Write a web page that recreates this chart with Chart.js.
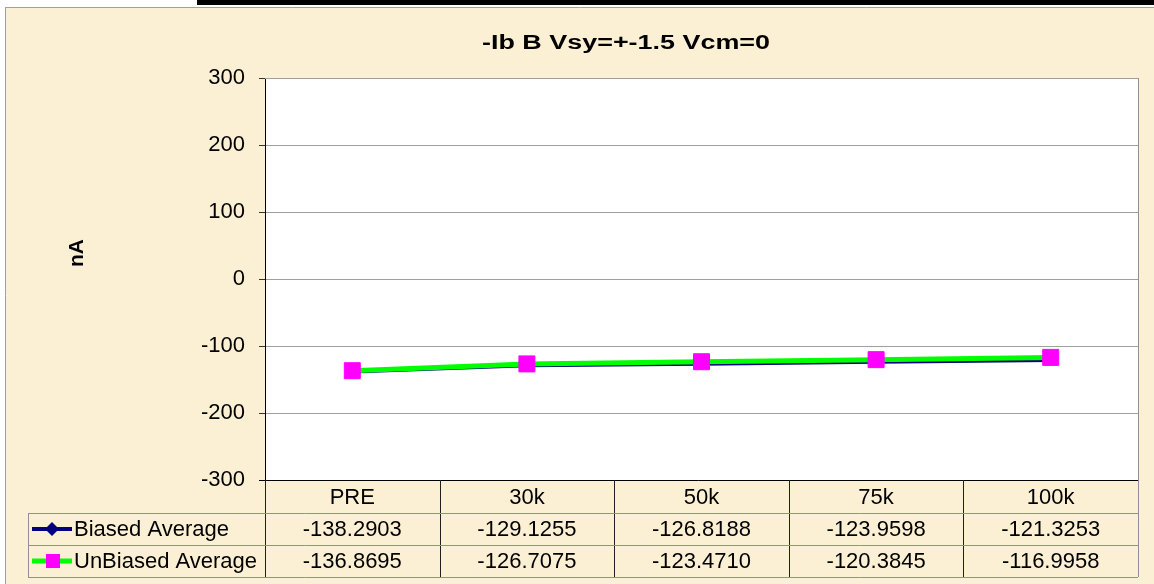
<!DOCTYPE html>
<html>
<head>
<meta charset="utf-8">
<title>-Ib B Vsy=+-1.5 Vcm=0</title>
<script src="https://cdn.jsdelivr.net/npm/chart.js@4.4.0/dist/chart.umd.min.js"></script>
<style>
  html, body { margin: 0; padding: 0; background: #fff; }
  #wrap { width: 1154px; height: 584px; }
</style>
</head>
<body>
<div id="wrap"><canvas id="ibChart" width="1154" height="584"></canvas></div>
<script>
// Chart data
const categories = ['PRE', '30k', '50k', '75k', '100k'];
const biasedAvg = [-138.2903, -129.1255, -126.8188, -123.9598, -121.3253];
const unbiasedAvg = [-136.8695, -126.7075, -123.4710, -120.3845, -116.9958];
const yTicks = [-300, -200, -100, 0, 100, 200, 300];
const chartTitle = '-Ib B Vsy=+-1.5 Vcm=0';
const yTitle = 'nA';

const FONT = "'Liberation Sans', Arial, sans-serif";

function hline(ctx, x1, x2, y, color) {
  ctx.strokeStyle = color;
  ctx.beginPath();
  ctx.moveTo(x1, Math.round(y) + 0.5);
  ctx.lineTo(x2, Math.round(y) + 0.5);
  ctx.stroke();
}

function vline(ctx, x, y1, y2, color) {
  ctx.strokeStyle = color;
  ctx.beginPath();
  ctx.moveTo(Math.round(x) + 0.5, y1);
  ctx.lineTo(Math.round(x) + 0.5, y2);
  ctx.stroke();
}

// parchment panel + white plot area
const backdrop = {
  id: 'backdrop',
  beforeDraw(chart) {
    const { ctx, chartArea: a, width, height } = chart;
    ctx.save();
    ctx.fillStyle = '#fff';
    ctx.fillRect(0, 0, width, height);
    ctx.fillStyle = '#fbf0d4';
    ctx.fillRect(5, 7, width - 5, height - 7);
    ctx.lineWidth = 1;
    vline(ctx, 5, 7, height, '#a0a0a0');
    hline(ctx, 5, width, 7, '#a0a0a0');
    ctx.fillStyle = '#000';
    ctx.fillRect(197, 0, width - 197, 5);
    ctx.fillStyle = '#fff';
    ctx.fillRect(a.left, a.top, a.width, a.height);
    ctx.restore();
  }
};

// frame, data table, title and axis title
const dataTable = {
  id: 'dataTable',
  afterDraw(chart) {
    const { ctx, chartArea: a, scales: { x } } = chart;
    const colW = a.width / categories.length;
    const r0 = a.bottom, r1 = r0 + 33, r2 = r1 + 32, r3 = r2 + 32;
    const legendLeft = 28;

    ctx.save();
    ctx.lineWidth = 1;
    hline(ctx, a.left, a.right, a.top, '#a0a0a0');
    vline(ctx, a.right, a.top, r3, '#909090');
    hline(ctx, a.left - 6, a.right, a.bottom, '#000');

    categories.forEach((c, i) => {
      vline(ctx, x.getPixelForValue(i) - colW / 2, r0, r3, '#202020');
    });
    [r1, r2, r3].forEach(y => hline(ctx, legendLeft, a.right, y, '#909090'));
    vline(ctx, legendLeft, r1, r3, '#909090');

    ctx.fillStyle = '#000';
    ctx.font = `22px ${FONT}`;
    ctx.textAlign = 'center';
    ctx.textBaseline = 'middle';
    categories.forEach((c, i) => {
      const cx = x.getPixelForValue(i);
      ctx.fillText(c, cx, (r0 + r1) / 2 + 1);
      ctx.fillText(biasedAvg[i].toFixed(4), cx, (r1 + r2) / 2 + 1);
      ctx.fillText(unbiasedAvg[i].toFixed(4), cx, (r2 + r3) / 2 + 1);
    });

    // legend keys
    const keyY1 = (r1 + r2) / 2, keyY2 = (r2 + r3) / 2;
    ctx.lineCap = 'butt';
    ctx.strokeStyle = '#000080';
    ctx.lineWidth = 4;
    ctx.beginPath(); ctx.moveTo(32, keyY1); ctx.lineTo(72, keyY1); ctx.stroke();
    ctx.fillStyle = '#000080';
    ctx.beginPath();
    ctx.moveTo(52, keyY1 - 7); ctx.lineTo(59, keyY1); ctx.lineTo(52, keyY1 + 7); ctx.lineTo(45, keyY1);
    ctx.closePath(); ctx.fill();
    ctx.strokeStyle = '#00ff00';
    ctx.lineWidth = 5;
    ctx.beginPath(); ctx.moveTo(32, keyY2); ctx.lineTo(72, keyY2); ctx.stroke();
    ctx.fillStyle = '#ff00ff';
    ctx.fillRect(46, keyY2 - 7, 14, 14);

    ctx.fillStyle = '#000';
    ctx.textAlign = 'left';
    ctx.fillText('Biased Average', 74, keyY1 + 1);
    ctx.fillText('UnBiased Average', 74, keyY2 + 1);

    // title, stretched wide like the original
    ctx.font = `bold 20px ${FONT}`;
    ctx.textBaseline = 'alphabetic';
    ctx.textAlign = 'center';
    const tw = ctx.measureText(chartTitle).width;
    ctx.save();
    ctx.translate(626, 49);
    ctx.scale(288 / tw, 1);
    ctx.fillText(chartTitle, 0, 0);
    ctx.restore();

    ctx.font = `bold 21px ${FONT}`;
    ctx.translate(83, 253);
    ctx.rotate(-Math.PI / 2);
    ctx.fillText(yTitle, 0, 0);
    ctx.restore();
  }
};

const ctx = document.getElementById('ibChart').getContext('2d');
const ibChart = new Chart(ctx, {
  type: 'line',
  data: {
    labels: categories,
    datasets: [{
      label: 'Biased Average',
      data: biasedAvg,
      borderColor: '#000080',
      backgroundColor: '#000080',
      borderWidth: 3.5,
      pointStyle: 'rectRot',
      pointRadius: 5,
      pointBorderWidth: 1,
      tension: 0,
      order: 2
    }, {
      label: 'UnBiased Average',
      data: unbiasedAvg,
      borderColor: '#00ff00',
      backgroundColor: '#ff00ff',
      pointBorderColor: '#ff00ff',
      borderWidth: 5,
      pointStyle: 'rect',
      pointRadius: 11.3,
      pointBorderWidth: 1,
      tension: 0,
      order: 1
    }]
  },
  options: {
    responsive: false,
    animation: false,
    layout: {
      padding: { top: 78, right: 16, bottom: 104, left: 0 }
    },
    plugins: {
      legend: { display: false },
      title: { display: false },
      tooltip: { enabled: false }
    },
    scales: {
      x: {
        type: 'category',
        offset: true,
        display: false
      },
      y: {
        min: -300,
        max: 300,
        afterBuildTicks: s => { s.ticks = yTicks.map(v => ({ value: v })); },
        afterFit: s => { s.width = 265; },
        ticks: {
          color: '#000',
          padding: 14,
          font: { family: FONT, size: 22 }
        },
        grid: {
          color: '#a0a0a0',
          tickColor: '#333',
          tickLength: 6
        },
        border: { color: '#000', width: 1 }
      }
    }
  },
  plugins: [backdrop, dataTable]
});
</script>
</body>
</html>
